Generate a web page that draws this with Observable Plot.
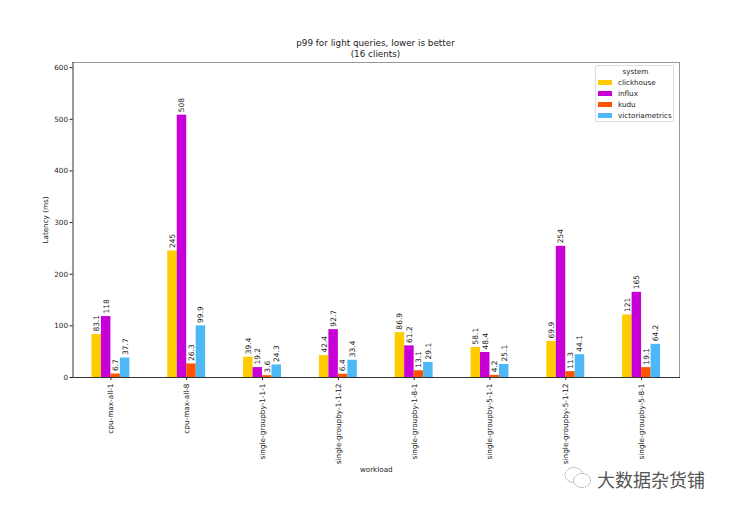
<!DOCTYPE html>
<html>
<head>
<meta charset="utf-8">
<script src="https://cdn.jsdelivr.net/npm/d3@7"></script>
<script src="https://cdn.jsdelivr.net/npm/@observablehq/plot@0.6"></script>
<style>
html,body{margin:0;padding:0;background:#fff;}
#wrap{position:relative;width:729px;height:511px;overflow:hidden;font-family:"DejaVu Sans",sans-serif;color:#222;}
#wrap svg.plot{position:absolute;left:0;top:0;}
#title{position:absolute;left:0;width:751px;top:38px;text-align:center;font-size:8.8px;line-height:10.5px;}
#legend{position:absolute;left:595px;top:65px;width:79px;height:57px;border:1px solid #ddd;border-radius:2px;background:#fff;font-size:7.2px;box-sizing:border-box;}
#legend .t{position:absolute;left:0;width:79px;top:1px;text-align:center;}
#legend .r{position:absolute;left:2px;height:10px;line-height:10px;white-space:nowrap;}
#legend .s{display:inline-block;width:14px;height:5px;margin-right:6px;vertical-align:0;}
#mark{position:absolute;left:597px;top:466px;font-family:"Noto Sans CJK SC",sans-serif;font-size:18px;color:#555;white-space:nowrap;}
#icon{position:absolute;left:563px;top:466px;}
</style>
</head>
<body>
<div id="wrap">
  <div id="title">p99 for light queries, lower is better<br>(16 clients)</div>
  <div id="legend"></div>
  <svg id="icon" width="30" height="24" viewBox="0 0 30 24" fill="#fff" stroke="#777" stroke-width="0.7" stroke-dasharray="1.5 1">
    <ellipse cx="11" cy="9" rx="9" ry="7.5"/><ellipse cx="19" cy="14.5" rx="8.5" ry="7"/>
  </svg>
  <div id="mark">大数据杂货铺</div>
</div>
<script>
const workloads = ["cpu-max-all-1","cpu-max-all-8","single-groupby-1-1-1","single-groupby-1-1-12","single-groupby-1-8-1","single-groupby-5-1-1","single-groupby-5-1-12","single-groupby-5-8-1"];
const systems = ["clickhouse","influx","kudu","victoriametrics"];
const colors = ["#ffcc00","#c800d8","#ff5500","#4db8f5"];
const clickhouse = [83.1,245,39.4,42.4,86.9,58.1,69.9,121];
const influx = [118,508,19.2,92.7,61.2,48.4,254,165];
const kudu = [6.7,26.3,3.6,6.4,13.1,4.2,11.3,19.1];
const victoriametrics = [37.7,99.9,24.3,33.4,29.1,25.1,44.1,64.2];
const yTicks = [0,100,200,300,400,500,600];

const series = [clickhouse,influx,kudu,victoriametrics];
const barWidth = 0.5/systems.length;
const rows = series.flatMap((vals,j)=>vals.map((v,i)=>({
  workload:i, system:systems[j], value:v,
  x1:i+(j-2)*barWidth, x2:i+(j-1)*barWidth, xc:i+(j-1.5)*barWidth
})));

const chart = Plot.plot({
  width:729, height:511,
  marginLeft:72.5, marginRight:50, marginTop:62, marginBottom:134,
  style:{fontFamily:"DejaVu Sans, sans-serif",fontSize:"7.5px",color:"#222",background:"transparent"},
  x:{domain:[-0.5,7.5]},
  y:{domain:[0,610]},
  color:{domain:systems,range:colors},
  marks:[
    Plot.rectY(rows,{x1:"x1",x2:"x2",y:"value",fill:"system"}),
    Plot.text(rows,{x:"xc",y:"value",text:d=>String(d.value),rotate:-90,textAnchor:"start",dy:-3,fontSize:7.5,fill:"#222"}),
    Plot.frame({anchor:"top",stroke:"#999"}),
    Plot.frame({anchor:"right",stroke:"#999"}),
    Plot.frame({anchor:"left",stroke:"#333"}),
    Plot.frame({anchor:"bottom",stroke:"#333"}),
    Plot.axisY({ticks:yTicks,tickSize:3,tickPadding:2,label:null,fontSize:7.2}),
    Plot.axisX({ticks:d3.range(workloads.length),tickFormat:i=>workloads[i],tickSize:3,tickPadding:3,tickRotate:-90,label:null,fontSize:7.3}),
    Plot.text(["workload"],{frameAnchor:"bottom",dy:94,fontSize:7.2,fill:"#222"}),
    Plot.text(["Latency (ms)"],{frameAnchor:"left",dx:-27,rotate:-90,textAnchor:"middle",fontSize:7.2,fill:"#222"})
  ]
});
const wrap = document.getElementById("wrap");
wrap.insertBefore(chart, wrap.firstChild);

const lg = document.getElementById("legend");
lg.innerHTML = '<div class="t">system</div>' + systems.map((s,i)=>
  `<div class="r" style="top:${12+i*11}px"><span class="s" style="background:${colors[i]}"></span>${s}</div>`).join("");
</script>
</body>
</html>
